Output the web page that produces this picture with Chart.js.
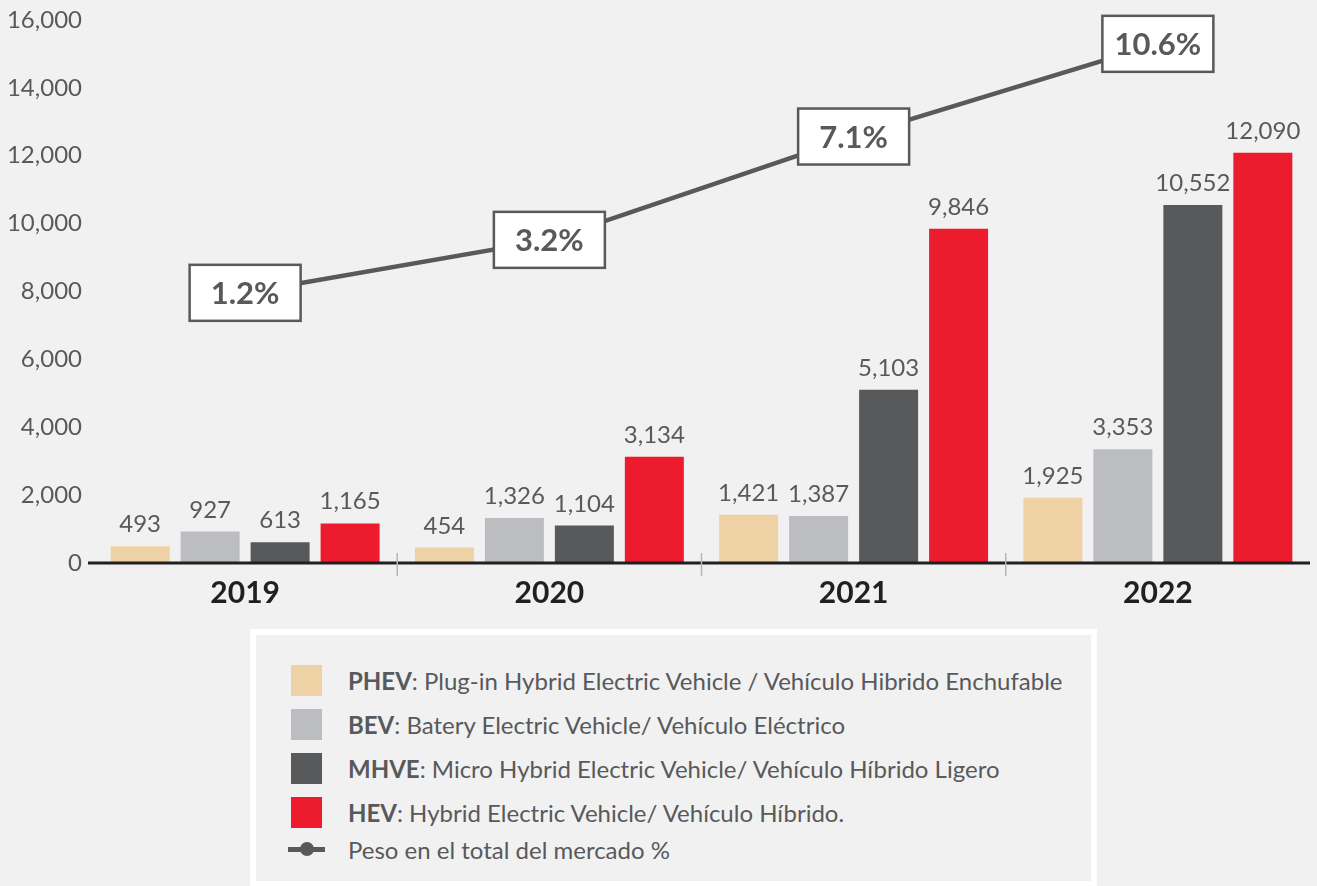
<!DOCTYPE html>
<html lang="es">
<head>
  <meta charset="UTF-8" />
  <meta name="viewport" content="width=device-width, initial-scale=1.0">
  <title>Ventas de vehículos electrificados</title>
  <script src="https://cdn.jsdelivr.net/npm/chart.js"></script>
  <style>
    body {
      font-family: 'Lato', 'Noto Sans', sans-serif;
      margin: 0;
      background: #f1f1f1;
      color: #58595b;
      width: 1317px;
      height: 886px;
      overflow: hidden;
      position: relative;
    }
    .chart-box {
      position: absolute;
      left: 0;
      top: 0;
      width: 1317px;
      height: 620px;
    }
    .legend {
      position: absolute;
      left: 250px;
      top: 629px;
      width: 847px;
      height: 257px;
      box-sizing: border-box;
      border: 6px solid #ffffff;
      border-bottom-width: 5px;
      padding: 23px 0 0 35px;
    }
    .legend .row {
      display: flex;
      align-items: center;
      height: 44px;
      font-size: 24px;
      white-space: nowrap;
    }
    .legend .row.last {
      height: 30px;
    }
    .legend .swatch {
      width: 31px;
      height: 31px;
      margin-right: 26px;
      flex: none;
    }
    .legend .line-icon {
      position: relative;
      width: 37px;
      height: 31px;
      margin-right: 23px;
      margin-left: -3px;
      flex: none;
    }
    .legend .line-icon::before {
      content: '';
      position: absolute;
      left: 0;
      right: 0;
      top: 13px;
      height: 5px;
      background: #58595b;
    }
    .legend .line-icon::after {
      content: '';
      position: absolute;
      left: 12px;
      top: 8px;
      width: 14px;
      height: 14px;
      border-radius: 50%;
      background: #58595b;
    }
    .legend b {
      font-weight: bold;
    }
  </style>
</head>
<body>
  <div class="chart-box">
    <canvas id="salesChart"></canvas>
  </div>
  <div class="legend" id="legend"></div>

  <script>
const years = ['2019', '2020', '2021', '2022'];
const phev = [493, 454, 1421, 1925];
const bev = [927, 1326, 1387, 3353];
const mhve = [613, 1104, 5103, 10552];
const hev = [1165, 3134, 9846, 12090];
const marketShare = [1.2, 3.2, 7.1, 10.6];
const yTicks = [0, 2000, 4000, 6000, 8000, 10000, 12000, 14000, 16000];

const seriesNames = ['PHEV', 'BEV', 'MHVE', 'HEV'];
const seriesText = [
  'Plug-in Hybrid Electric Vehicle / Vehículo Hibrido Enchufable',
  'Batery Electric Vehicle/ Vehículo Eléctrico',
  'Micro Hybrid Electric Vehicle/ Vehículo Híbrido Ligero',
  'Hybrid Electric Vehicle/ Vehículo Híbrido.'
];
const lineName = 'Peso en el total del mercado %';
const colors = ['#efd1a6', '#bcbdc0', '#58595b', '#ed1b2e'];

const FONT = "'Lato', 'Noto Sans', sans-serif";
const GREY = '#58595b';

// value labels over every bar
const barLabels = {
  id: 'barLabels',
  afterDatasetsDraw(chart) {
    const ctx = chart.ctx;
    ctx.save();
    ctx.font = `24px ${FONT}`;
    ctx.fillStyle = GREY;
    ctx.textAlign = 'center';
    ctx.textBaseline = 'alphabetic';
    chart.data.datasets.forEach((ds, i) => {
      if (ds.type === 'line') return;
      chart.getDatasetMeta(i).data.forEach((bar, j) => {
        ctx.fillText(ds.data[j].toLocaleString('en-US'), bar.x, bar.y - 14);
      });
    });
    ctx.restore();
  }
};

// boxed percentages on the line
const shareBoxes = {
  id: 'shareBoxes',
  afterDatasetsDraw(chart) {
    const ctx = chart.ctx;
    const idx = chart.data.datasets.findIndex(d => d.type === 'line');
    const ds = chart.data.datasets[idx];
    ctx.save();
    ctx.font = `bold 31px ${FONT}`;
    ctx.textAlign = 'center';
    ctx.textBaseline = 'middle';
    chart.getDatasetMeta(idx).data.forEach((pt, j) => {
      const w = 111, h = 56;
      ctx.fillStyle = '#ffffff';
      ctx.fillRect(pt.x - w / 2, pt.y - h / 2, w, h);
      ctx.lineWidth = 2.5;
      ctx.strokeStyle = GREY;
      ctx.strokeRect(pt.x - w / 2, pt.y - h / 2, w, h);
      ctx.fillStyle = GREY;
      ctx.fillText(ds.data[j].toFixed(1) + '%', pt.x, pt.y + 1);
    });
    ctx.restore();
  }
};

// axis line and separators between years
const axisMarks = {
  id: 'axisMarks',
  afterDatasetsDraw(chart) {
    const ctx = chart.ctx;
    const x = chart.scales.x;
    const y0 = chart.scales.y.getPixelForValue(0);
    ctx.save();
    ctx.strokeStyle = '#231f20';
    ctx.lineWidth = 3;
    ctx.beginPath();
    ctx.moveTo(chart.chartArea.left - 5, y0);
    ctx.lineTo(chart.chartArea.right, y0);
    ctx.stroke();
    ctx.strokeStyle = '#b5b6b8';
    ctx.lineWidth = 1.5;
    for (let i = 1; i < years.length; i++) {
      const sx = (x.getPixelForTick(i - 1) + x.getPixelForTick(i)) / 2;
      ctx.beginPath();
      ctx.moveTo(sx, y0 - 10);
      ctx.lineTo(sx, y0 + 13);
      ctx.stroke();
    }
    ctx.restore();
  }
};

const barSets = seriesNames.map((name, i) => ({
  type: 'bar',
  label: name,
  data: [phev, bev, mhve, hev][i],
  backgroundColor: colors[i],
  yAxisID: 'y',
  categoryPercentage: 0.92,
  barPercentage: 0.843,
  order: 2
}));

const ctx = document.getElementById('salesChart').getContext('2d');
const salesChart = new Chart(ctx, {
  data: {
    labels: years,
    datasets: [
      ...barSets,
      {
        type: 'line',
        label: lineName,
        data: marketShare,
        yAxisID: 'y2',
        borderColor: GREY,
        borderWidth: 4.5,
        pointRadius: 0,
        tension: 0,
        order: 1
      }
    ]
  },
  options: {
    responsive: true,
    maintainAspectRatio: false,
    animation: false,
    layout: { padding: { top: 20, right: 7, left: 0, bottom: 0 } },
    plugins: {
      legend: { display: false },
      tooltip: { enabled: false }
    },
    scales: {
      x: {
        grid: { display: false, drawTicks: false },
        border: { display: false },
        ticks: {
          color: '#231f20',
          font: { family: FONT, size: 30, weight: 'bold' },
          padding: 12
        },
        afterFit: s => { s.height = 57; }
      },
      y: {
        min: 0,
        max: 16000,
        afterBuildTicks: s => { s.ticks = yTicks.map(v => ({ value: v })); },
        grid: { display: false, drawTicks: false },
        border: { display: false },
        ticks: {
          color: GREY,
          font: { family: FONT, size: 24 },
          padding: 11,
          callback: v => v.toLocaleString('en-US')
        },
        afterFit: s => {
          s.width = 93;
          s.paddingTop = 0;
        }
      },
      y2: {
        display: false,
        min: -9,
        max: 11.5
      }
    }
  },
  plugins: [axisMarks, barLabels, shareBoxes]
});

// html legend
const legend = document.getElementById('legend');
seriesNames.forEach((name, i) => {
  const row = document.createElement('div');
  row.className = 'row';
  row.innerHTML = `<span class="swatch" style="background:${colors[i]}"></span><span><b>${name}</b>: ${seriesText[i]}</span>`;
  legend.appendChild(row);
});
const lineRow = document.createElement('div');
lineRow.className = 'row last';
lineRow.innerHTML = `<span class="line-icon"></span><span>${lineName}</span>`;
legend.appendChild(lineRow);
  </script>
</body>
</html>
